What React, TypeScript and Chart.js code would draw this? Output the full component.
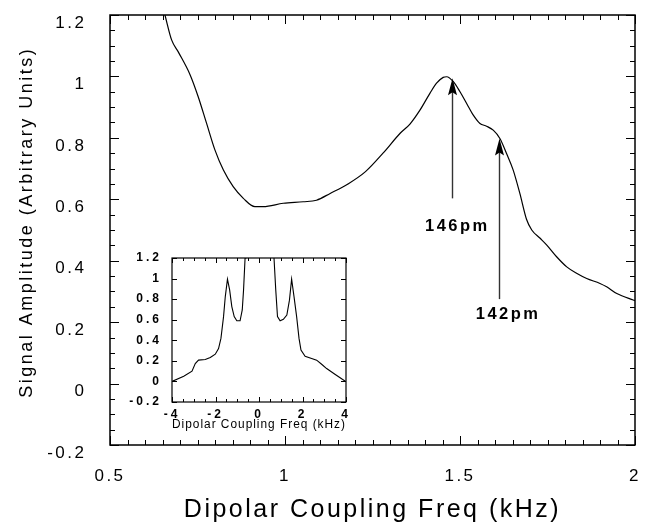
import React, { useEffect, useRef } from 'react';
import { Chart, registerables } from 'chart.js';

Chart.register(...registerables);

// ---------- data ----------
const mainX = [0.657, 0.676, 0.695, 0.729, 0.752, 0.776, 0.8, 0.824, 0.852, 0.881, 0.914, 0.938, 0.995, 1.052, 1.09, 1.129, 1.18, 1.23, 1.28, 1.329, 1.357, 1.386, 1.414, 1.433, 1.452, 1.462, 1.481, 1.5, 1.519, 1.538, 1.557, 1.576, 1.595, 1.614, 1.633, 1.652, 1.671, 1.69, 1.705, 1.729, 1.748, 1.776, 1.805, 1.833, 1.862, 1.9, 1.919, 1.948, 1.995, 2.0];
const mainY = [1.2, 1.119, 1.08, 1.005, 0.934, 0.847, 0.76, 0.695, 0.641, 0.603, 0.576, 0.576, 0.587, 0.592, 0.597, 0.619, 0.65, 0.69, 0.75, 0.815, 0.845, 0.891, 0.945, 0.978, 0.997, 0.999, 0.983, 0.95, 0.912, 0.874, 0.847, 0.838, 0.825, 0.798, 0.749, 0.695, 0.619, 0.535, 0.5, 0.473, 0.451, 0.413, 0.38, 0.359, 0.342, 0.326, 0.315, 0.293, 0.272, 0.27];

const insetX = [-4, -3.46, -3.08, -2.93, -2.78, -2.47, -2.24, -2.01, -1.86, -1.75, -1.63, -1.55, -1.45, -1.35, -1.25, -1.14, -1.02, -0.87, -0.77, -0.71, -0.64, -0.6, 0, 0.65, 0.69, 0.77, 0.85, 0.97, 1.12, 1.28, 1.4, 1.5, 1.61, 1.73, 1.84, 1.93, 2.12, 2.42, 2.65, 2.88, 3.11, 3.49, 3.95, 4];
const insetY = [0, 0.05, 0.1, 0.174, 0.207, 0.213, 0.233, 0.265, 0.32, 0.418, 0.63, 0.825, 0.995, 0.89, 0.728, 0.63, 0.59, 0.59, 0.695, 0.89, 1.2, 1.4, null, 1.4, 1.2, 0.89, 0.63, 0.59, 0.604, 0.646, 0.79, 0.995, 0.825, 0.63, 0.418, 0.304, 0.245, 0.223, 0.207, 0.167, 0.125, 0.07, 0.005, 0];

const mainXTicks = [0.5, 1, 1.5, 2];
const mainYTicks = [-0.2, 0, 0.2, 0.4, 0.6, 0.8, 1, 1.2];
const insetXTicks = [-4, -2, 0, 2, 4];
const insetYTicks = [-0.2, 0, 0.2, 0.4, 0.6, 0.8, 1, 1.2];

const xTitle = 'Dipolar Coupling Freq (kHz)';
const yTitle = 'Signal Amplitude (Arbitrary Units)';
const insetTitle = 'Dipolar Coupling Freq (kHz)';

const arrowLabels = ['146pm', '142pm'];
const arrowX = [1.478, 1.611];
const arrowTipY = [0.994, 0.798];
const arrowTailY = [0.603, 0.275];
const labelX = [1.489, 1.634];
const labelY = [0.513, 0.226];

const FONT = '"Liberation Sans", Arial, Helvetica, sans-serif';

function drawFrame(chart: any, xMajor: number[], xStep: number, yMajor: number[], yStep: number, majLen: number, minLen: number, lw: number) {
  const { ctx, chartArea: a } = chart;
  const x = chart.scales.x;
  const y = chart.scales.y;
  ctx.save();
  ctx.strokeStyle = '#000';
  ctx.lineWidth = 1;
  ctx.beginPath();
  const nX = Math.round((x.max - x.min) / xStep);
  for (let i = 0; i <= nX; i++) {
    const v = x.min + i * xStep;
    const maj = xMajor.some((m) => Math.abs(m - v) < 1e-6);
    const L = maj ? majLen : minLen;
    const p = Math.round(x.getPixelForValue(v)) + 0.5;
    ctx.moveTo(p, a.bottom); ctx.lineTo(p, a.bottom - L);
    ctx.moveTo(p, a.top); ctx.lineTo(p, a.top + L);
  }
  const nY = Math.round((y.max - y.min) / yStep);
  for (let i = 0; i <= nY; i++) {
    const v = y.min + i * yStep;
    const maj = yMajor.some((m) => Math.abs(m - v) < 1e-6);
    const L = maj ? majLen : minLen;
    const p = Math.round(y.getPixelForValue(v)) + 0.5;
    ctx.moveTo(a.left, p); ctx.lineTo(a.left + L, p);
    ctx.moveTo(a.right, p); ctx.lineTo(a.right - L, p);
  }
  ctx.stroke();
  ctx.lineWidth = lw;
  ctx.strokeRect(a.left, a.top, a.right - a.left, a.bottom - a.top);
  ctx.restore();
}

function spacing(titleLS: string, tickLS: string) {
  return {
    id: 'spacing',
    beforeDraw(chart: any) { chart.ctx.letterSpacing = titleLS; },
    beforeDatasetsDraw(chart: any) { chart.ctx.letterSpacing = tickLS; },
    afterDraw(chart: any) { chart.ctx.letterSpacing = '0px'; },
  };
}

const mainDecor = {
  id: 'mainDecor',
  afterDraw(chart: any) {
    drawFrame(chart, mainXTicks, 0.05, mainYTicks, 0.05, 9, 5, 1.5);
    const { ctx } = chart;
    const xs = chart.scales.x;
    const ys = chart.scales.y;
    ctx.save();
    for (let i = 0; i < arrowLabels.length; i++) {
      const px = Math.round(xs.getPixelForValue(arrowX[i])) + 0.5;
      const tip = ys.getPixelForValue(arrowTipY[i]);
      const tail = ys.getPixelForValue(arrowTailY[i]);
      ctx.strokeStyle = '#333';
      ctx.lineWidth = 1.4;
      ctx.beginPath();
      ctx.moveTo(px, tail);
      ctx.lineTo(px, tip + 10);
      ctx.stroke();
      ctx.fillStyle = '#000';
      ctx.beginPath();
      ctx.moveTo(px, tip);
      ctx.lineTo(px - 4.5, tip + 17);
      ctx.lineTo(px, tip + 14);
      ctx.lineTo(px + 4.5, tip + 17);
      ctx.closePath();
      ctx.fill();
      ctx.font = `bold 16.5px ${FONT}`;
      ctx.letterSpacing = '2.5px';
      ctx.textAlign = 'center';
      ctx.textBaseline = 'middle';
      ctx.fillText(arrowLabels[i], xs.getPixelForValue(labelX[i]) + 1.25, ys.getPixelForValue(labelY[i]));
    }
    // y-axis title
    ctx.translate(19, 215.5);
    ctx.rotate(-Math.PI / 2);
    ctx.font = `18px ${FONT}`;
    ctx.letterSpacing = '2.5px';
    ctx.fillStyle = '#000';
    ctx.textAlign = 'center';
    ctx.textBaseline = 'middle';
    ctx.fillText(yTitle, 1.25, 0);
    ctx.restore();
  },
};

const insetDecor = {
  id: 'insetDecor',
  afterDraw(chart: any) {
    drawFrame(chart, insetXTicks, 0.5, insetYTicks, 0.2, 5, 3, 1.2);
  },
};

export default function App() {
  const mainRef = useRef<HTMLCanvasElement>(null);
  const insetRef = useRef<HTMLCanvasElement>(null);

  useEffect(() => {
    const main = new Chart(mainRef.current as HTMLCanvasElement, {
      type: 'line',
      data: {
        datasets: [{
          data: mainX.map((x, i) => ({ x, y: mainY[i] })),
          borderColor: '#000',
          borderWidth: 1.2,
          pointRadius: 0,
          cubicInterpolationMode: 'monotone',
          fill: false,
        }],
      },
      options: {
        animation: false,
        responsive: false,
        devicePixelRatio: 1,
        layout: { padding: { left: 0, top: 7, right: 11, bottom: 0 } },
        plugins: { legend: { display: false }, tooltip: { enabled: false } },
        scales: {
          x: {
            type: 'linear', min: 0.5, max: 2,
            grid: { display: false }, border: { display: false },
            afterBuildTicks: (s: any) => { s.ticks = mainXTicks.map((value) => ({ value })); },
            afterFit: (s: any) => { s.height = 78; s.paddingLeft = 0; s.paddingRight = 0; },
            ticks: { color: '#000', font: { family: FONT, size: 17 }, padding: 13, maxRotation: 0, autoSkip: false, z: 1, callback: (v: any) => String(v) },
            title: { display: true, text: xTitle, color: '#000', font: { family: FONT, size: 25, lineHeight: 1 }, padding: { top: 0, bottom: 0 } },
          },
          y: {
            type: 'linear', min: -0.2, max: 1.2,
            grid: { display: false }, border: { display: false },
            afterBuildTicks: (s: any) => { s.ticks = mainYTicks.map((value) => ({ value })); },
            afterFit: (s: any) => { s.width = 102; s.paddingTop = 0; s.paddingBottom = 0; },
            ticks: { color: '#000', font: { family: FONT, size: 17 }, padding: 15.5, labelOffset: 8, autoSkip: false, z: 1, callback: (v: any) => String(v) },
            title: { display: false },
          },
        },
      } as any,
      plugins: [spacing('2.5px', '2.5px'), mainDecor],
    });

    const inset = new Chart(insetRef.current as HTMLCanvasElement, {
      type: 'line',
      data: {
        datasets: [{
          data: insetX.map((x, i) => ({ x, y: insetY[i] })),
          borderColor: '#000',
          borderWidth: 1.1,
          pointRadius: 0,
          tension: 0,
          spanGaps: false,
          fill: false,
        }],
      },
      options: {
        animation: false,
        responsive: false,
        devicePixelRatio: 1,
        layout: { padding: { left: 0, top: 8, right: 4, bottom: 0 } },
        plugins: { legend: { display: false }, tooltip: { enabled: false } },
        scales: {
          x: {
            type: 'linear', min: -4, max: 4,
            grid: { display: false }, border: { display: false },
            afterBuildTicks: (s: any) => { s.ticks = insetXTicks.map((value) => ({ value })); },
            afterFit: (s: any) => { s.height = 29; s.paddingLeft = 0; s.paddingRight = 0; },
            ticks: { color: '#000', font: { family: FONT, size: 12, weight: 'bold' }, padding: -3, maxRotation: 0, autoSkip: false, z: 1, callback: (v: any) => String(v) },
            title: { display: true, text: insetTitle, color: '#000', font: { family: FONT, size: 12, lineHeight: 1 }, padding: 0 },
          },
          y: {
            type: 'linear', min: -0.2, max: 1.2,
            grid: { display: false }, border: { display: false },
            afterBuildTicks: (s: any) => { s.ticks = insetYTicks.map((value) => ({ value })); },
            afterFit: (s: any) => { s.width = 47; s.paddingTop = 0; s.paddingBottom = 0; },
            ticks: { color: '#000', font: { family: FONT, size: 12, weight: 'bold' }, padding: 2, autoSkip: false, z: 1, callback: (v: any) => String(v) },
            title: { display: false },
          },
        },
      } as any,
      plugins: [spacing('1px', '3px'), insetDecor],
    });

    return () => {
      main.destroy();
      inset.destroy();
    };
  }, []);

  return (
    <div style={{ position: 'relative', width: 638, height: 515 }}>
      <canvas ref={mainRef} width={638} height={515} style={{ display: 'block', width: 638, height: 515 }} />
      <canvas ref={insetRef} width={225} height={181} style={{ position: 'absolute', left: 117, top: 242, width: 225, height: 181 }} />
    </div>
  );
}
